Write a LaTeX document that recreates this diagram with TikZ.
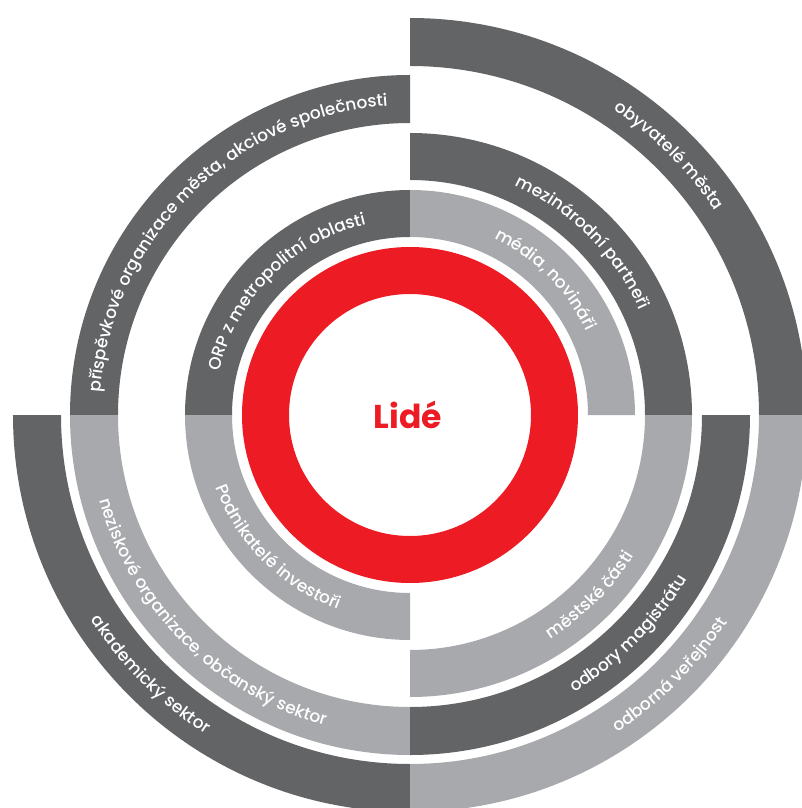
\documentclass[tikz,border=0pt]{standalone}
\usepackage{fontspec}
\setmainfont{Poppins}
\newfontfamily\medfont{Poppins Medium}
\usetikzlibrary{decorations.text}
\definecolor{darkg}{RGB}{99,100,102}
\definecolor{lightg}{RGB}{167,169,172}
\definecolor{redc}{RGB}{237,28,36}
\newcommand\lab{\medfont\fontsize{17}{20}\selectfont}
\newcommand\ringseg[5]{%
  \fill[#1] (#2:#5pt) arc[start angle=#2, end angle=#3, radius=#5pt] -- (#3:#4pt) arc[start angle=#3, end angle=#2, radius=#4pt] -- cycle;}
\newcommand\arclabel[4]{%
  \path[decorate, decoration={text along path, text align=center, text color=white, text={|\lab|#4}}] (#1:#3pt) arc[start angle=#1, end angle=#2, radius=#3pt];}
\begin{document}
\begin{tikzpicture}
\useasboundingbox (-410pt,-393pt) rectangle (391pt,415pt);
% red ring
\fill[redc, even odd rule] (0,0) circle[radius=168pt] (0,0) circle[radius=121pt];
\node[font=\bfseries\fontsize{33}{36}\selectfont, text=redc] (lide) at (-2pt,0pt) {Lidé};
% top-left
\ringseg{darkg}{90}{180}{178}{225}
\ringseg{darkg}{90}{180}{292}{340}
% top-right
\ringseg{lightg}{0}{90}{178}{225}
\ringseg{darkg}{0}{90}{235}{282}
\ringseg{darkg}{0}{90}{349}{397}
% bottom-left
\ringseg{lightg}{180}{270}{178}{225}
\ringseg{lightg}{180}{270}{292}{340}
\ringseg{darkg}{180}{270}{349}{397}
% bottom-right
\ringseg{lightg}{270}{360}{235}{282}
\ringseg{darkg}{270}{360}{292}{340}
\ringseg{lightg}{270}{360}{349}{397}
% labels
\arclabel{180}{90}{195.5}{ORP z metropolitní oblasti}
\arclabel{180}{90}{310}{příspěvkové organizace města, akciové společnosti}
\arclabel{90}{0}{195.5}{média, novináři}
\arclabel{90}{0}{252.5}{mezinárodní partneři}
\arclabel{90}{0}{367}{obyvatelé města}
\arclabel{180}{270}{207.5}{Podnikatelé investoři}
\arclabel{180}{270}{322}{neziskové organizace, občanský sektor}
\arclabel{180}{270}{379}{akademický sektor}
\arclabel{270}{360}{264.5}{městské části}
\arclabel{270}{360}{322}{odbory magistrátu}
\arclabel{270}{360}{379}{odborná veřejnost}
\end{tikzpicture}
\end{document}
